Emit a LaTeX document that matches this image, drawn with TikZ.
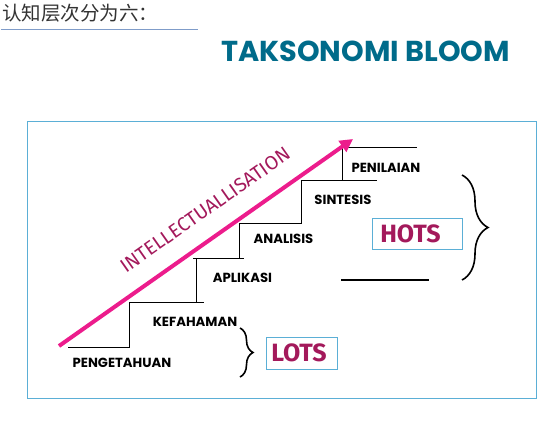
\documentclass[tikz,border=0pt]{standalone}
\usepackage{fontspec}
\usetikzlibrary{arrows.meta, decorations.pathreplacing, positioning}
\definecolor{TitleTeal}{HTML}{006B8A}
\definecolor{ArrowPink}{HTML}{EC1C8C}
\definecolor{PlumText}{HTML}{A3195B}
\definecolor{FrameBlue}{HTML}{5BAFD6}
\definecolor{RuleBlue}{HTML}{7F9CC9}
\definecolor{InkGrey}{HTML}{333333}
\newfontfamily\CjkFont{Noto Sans CJK SC}
\newfontfamily\StepFont{Poppins}
\newfontfamily\PlayFont{Fira Sans}
\newcommand{\LevelFont}{\StepFont\bfseries\fontsize{13.2pt}{15pt}\selectfont}
\newcommand{\TagFont}{\PlayFont\bfseries\fontsize{25pt}{28pt}\selectfont}

\begin{document}
\begin{tikzpicture}[x=1pt, y=-1pt,
  level/.style={font=\LevelFont, text=black, inner sep=0pt},
  tagbox/.style={draw=FrameBlue, line width=0.9pt, minimum width=#1, minimum height=31pt, inner sep=0pt},
  tag/.style={font=\TagFont, text=PlumText, inner sep=0pt},
  stair/.style={line width=1pt, black},
  curly/.style={decorate, line width=1.6pt, decoration={brace, amplitude=#1}}]
  \useasboundingbox (0,0) rectangle (547,423);
  % heading
  \node[font={\CjkFont\fontsize{19.5pt}{21pt}\selectfont}, text=InkGrey, anchor=base west, inner sep=0pt] (cn) at (2,20.5)
    {认知层次分为六：};
  \draw[RuleBlue, line width=1pt] (1,29.5) -- (198,29.5);
  \node[font={\StepFont\bfseries\fontsize{28.8pt}{32pt}\selectfont}, text=TitleTeal, inner sep=0pt] (title) at (365.5,51)
    {TAKSONOMI BLOOM};
  % frame
  \draw[FrameBlue, line width=1pt] (27,121) rectangle (536.5,398);
  % stairs
  \draw[stair] (68,347) -- (129,347) -- (129,302) -- (204,302);
  \draw[stair] (196,302) -- (196,258);
  \draw[stair] (193,258) -- (244,258);
  \draw[stair] (239,258) -- (239,223) -- (301,223) -- (301,180) -- (377,180);
  \draw[stair] (342,180) -- (342,147) -- (417,147);
  \draw[line width=2pt] (341,280) -- (429,280);
  % levels
  \node[level] (l1) at (122,363) {PENGETAHUAN};
  \node[level] (l2) at (195,322) {KEFAHAMAN};
  \node[level] (l3) at (242.5,278) {APLIKASI};
  \node[level] (l4) at (283.5,239) {ANALISIS};
  \node[level] (l5) at (343,200) {SINTESIS};
  \node[level] (l6) at (386,168) {PENILAIAN};
  % arrow
  \coordinate (start) at (59,346);
  \coordinate (tip) at (353,139);
  \draw[ArrowPink, line width=4pt, -{Triangle[length=13pt, width=13pt]}] (start) -- (tip);
  \node[font={\PlayFont\fontsize{19.5pt}{22pt}\selectfont}, text=PlumText, rotate=35.1, inner sep=0pt] (intel) at (205,210)
    {INTELLECTUALLISATION};
  % lots / hots
  \node[tagbox=71pt, minimum height=32pt] (lotsbox) at (301.5,353) {};
  \node[tag] (lots) at (299,353) {LOTS};
  \node[tagbox=90pt] (hotsbox) at (417,233.5) {};
  \node[tag] (hots) at (410.5,233.5) {HOTS};
  \coordinate (lotsTop) at (240,328);
  \coordinate (lotsBot) at (240,377);
  \coordinate (hotsTop) at (462,175);
  \coordinate (hotsBot) at (462,280);
  \draw[curly=13pt] (lotsTop) -- (lotsBot);
  \draw[curly=26pt] (hotsTop) -- (hotsBot);
\end{tikzpicture}
\end{document}
